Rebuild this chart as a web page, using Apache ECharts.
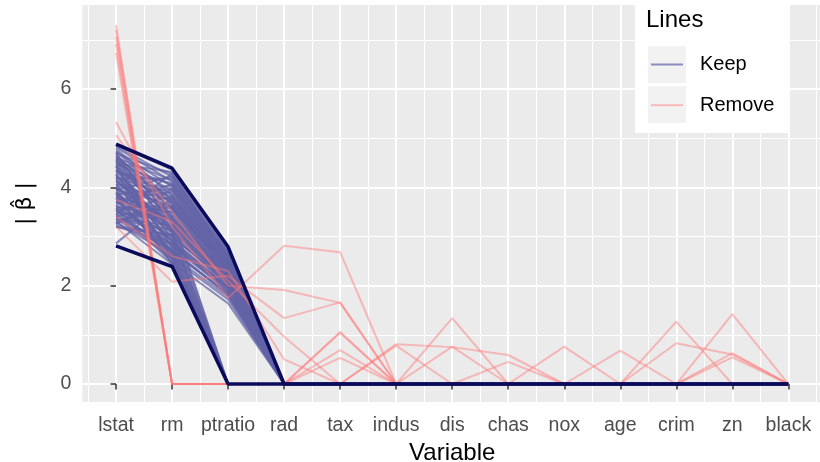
<!DOCTYPE html>
<html>
<head>
<meta charset="utf-8">
<script src="https://cdn.jsdelivr.net/npm/echarts@6/dist/echarts.min.js"></script>
<style>
html, body { margin: 0; padding: 0; background: #fff; }
#chart { width: 820px; height: 462px; }
</style>
</head>
<body>
<div id="chart"></div>
<script>
const variables = ['lstat', 'rm', 'ptratio', 'rad', 'tax', 'indus', 'dis', 'chas', 'nox', 'age', 'crim', 'zn', 'black'];

// "Keep" lines: only lstat, rm and ptratio are non-zero
const keepLstat = [4.86, 4.81, 4.74, 4.69, 4.63, 4.58, 4.55, 4.49, 4.44, 4.37, 4.33, 4.27, 4.22, 4.18, 4.12, 4.07,
    4.03, 3.98, 3.94, 3.88, 3.83, 3.79, 3.74, 3.69, 3.63, 3.58, 3.54, 3.49, 3.44, 3.38, 3.33, 3.29,
    3.24, 3.19, 2.86, 4.64, 4.01, 3.71, 4.41, 3.36, 4.84, 4.78, 4.72, 4.67, 4.61, 4.56, 4.51, 4.47,
    4.42, 4.35, 4.31, 4.25, 4.21, 4.16, 4.10, 4.05, 3.99, 3.96, 3.90, 3.86, 3.81, 3.76, 3.72, 3.66,
    3.61, 3.56, 3.52, 3.46, 3.41, 3.35, 3.27, 3.21,
    4.46, 3.92, 3.51, 4.14, 3.31, 4.59, 3.77, 3.22, 4.28, 3.64, 4.70, 3.42, 4.00, 3.86,
    4.20, 3.58, 4.52, 3.35, 3.98, 4.33];
const keepRm = [4.36, 4.12, 3.71, 4.27, 3.38, 3.93, 3.15, 4.31, 3.58, 2.98, 3.86, 2.81, 3.47, 4.18, 3.26, 2.67,
    3.74, 3.07, 4.22, 2.91, 3.43, 2.56, 3.91, 3.18, 2.74, 3.62, 2.47, 3.34, 4.28, 2.86, 3.52, 2.61,
    3.97, 3.02, 3.79, 3.66, 3.11, 3.49, 2.94, 3.23, 4.21, 3.84, 4.02, 3.55, 4.14, 3.29, 3.77, 4.05,
    3.36, 3.68, 4.09, 3.12, 3.81, 2.88, 3.57, 4.01, 3.31, 3.63, 2.79, 3.97, 3.24, 3.56, 2.69, 4.07,
    3.39, 3.02, 3.82, 2.72, 3.60, 3.13, 3.71, 2.84,
    2.52, 2.71, 2.93, 3.19, 2.44, 3.41, 2.63, 3.04, 2.61, 2.83, 3.06, 2.55, 3.33, 2.48,
    2.90, 2.58, 2.77, 2.70, 2.45, 3.10];
const keepPtratio = [2.74, 2.60, 2.44, 2.66, 2.27, 2.52, 2.18, 2.70, 2.36, 2.08, 2.47, 1.96, 2.29, 2.62, 2.16, 1.86,
    2.41, 2.04, 2.58, 1.99, 2.24, 1.72, 2.45, 2.13, 1.82, 2.33, 1.64, 2.19, 2.55, 1.92, 2.26, 1.77,
    2.39, 2.01, 2.34, 2.31, 2.09, 2.21, 1.95, 2.11, 2.68, 2.49, 2.57, 2.35, 2.61, 2.22, 2.43, 2.59,
    2.25, 2.39, 2.56, 2.10, 2.44, 1.97, 2.32, 2.53, 2.17, 2.36, 1.90, 2.50, 2.14, 2.30, 1.84, 2.48,
    2.20, 2.03, 2.40, 1.80, 2.31, 2.07, 2.35, 1.88,
    0, 0, 0, 0, 0, 0, 0, 0, 0, 0, 0, 0, 0, 0,
    0, 0, 0, 0, 0, 0];
const keepRest = [0, 0, 0, 0, 0, 0, 0, 0, 0, 0];

// "Remove" lines, one row per line, in the order of variables
const removeLines = [
    [5.33, 3.20, 1.75, 2.81, 2.68, 0, 1.34, 0, 0, 0.68, 0, 0, 0],
    [5.06, 3.50, 2.00, 1.91, 1.65, 0, 0, 0.45, 0, 0, 1.27, 0, 0],
    [3.20, 2.08, 2.20, 1.34, 1.66, 0, 0.76, 0, 0.76, 0, 0, 1.42, 0],
    [3.75, 3.30, 2.10, 0.96, 0, 0.81, 0.75, 0.59, 0, 0, 0.83, 0.60, 0],
    [3.40, 2.60, 2.30, 0.50, 0, 0.78, 0, 0, 0, 0, 0, 0.63, 0],
    [7.30, 0, 0, 0, 1.06, 0, 0, 0, 0, 0, 0, 0.54, 0],
    [7.20, 0, 0, 0, 1.04, 0, 0, 0, 0, 0, 0, 0, 0],
    [7.06, 0, 0, 0, 0.69, 0, 0, 0, 0, 0, 0, 0, 0],
    [6.92, 0, 0, 0, 0.53, 0, 0, 0, 0, 0, 0, 0, 0],
    [6.74, 0, 0, 0, 0, 0, 0, 0, 0, 0, 0, 0, 0]
];

// the two dark outline lines
const boundLines = [
    [4.88, 4.39, 2.79, 0, 0, 0, 0, 0, 0, 0, 0, 0, 0],
    [2.81, 2.39, 0, 0, 0, 0, 0, 0, 0, 0, 0, 0, 0]
];

const xTicks = [0, 1, 2, 3, 4, 5, 6, 7, 8, 9, 10, 11, 12];
const xMinorTicks = [-0.5, 0.5, 1.5, 2.5, 3.5, 4.5, 5.5, 6.5, 7.5, 8.5, 9.5, 10.5, 11.5, 12.5];
const yTicks = [0, 2, 4, 6];
const yMinorTicks = [1, 3, 5, 7];

const FONT = "'Liberation Sans', Arial, sans-serif";
const keepColor = 'rgba(98, 98, 166, 0.72)';
const removeColor = 'rgba(255, 118, 118, 0.45)';
const boundColor = '#0b0b5c';

const lineOptions = {
    type: 'line',
    symbol: 'none',
    silent: true,
    emphasis: { disabled: true }
};

function toPoints(values) {
    return values.map((v, i) => [i, v]);
}

let series = [];
for (let i = 0; i < keepLstat.length; i++) {
    series.push({
        name: 'Keep',
        data: toPoints([keepLstat[i], keepRm[i], keepPtratio[i]].concat(keepRest)),
        color: keepColor,
        lineStyle: { width: 2 },
        z: 2,
        ...lineOptions
    });
}
for (let i = 0; i < removeLines.length; i++) {
    series.push({
        name: 'Remove',
        data: toPoints(removeLines[i]),
        color: removeColor,
        lineStyle: { width: 2 },
        z: 3,
        ...lineOptions
    });
}
for (let i = 0; i < boundLines.length; i++) {
    series.push({
        name: 'bound',
        data: toPoints(boundLines[i]),
        color: boundColor,
        lineStyle: { width: 3.5 },
        z: 4,
        ...lineOptions
    });
}

const xMin = -0.6, xMax = 12.6;
const yMin = -0.366, yMax = 7.708;

let chartDom = document.getElementById('chart');
let myChart = echarts.init(chartDom, null, { renderer: 'canvas' });

let option = {
    animation: false,
    backgroundColor: '#ffffff',
    textStyle: { fontFamily: FONT },
    grid: {
        left: 82.4, top: 5, width: 739.6, height: 397,
        outerBoundsMode: 'none', containLabel: false,
        show: true, backgroundColor: '#ebebeb', borderWidth: 0
    },
    title: {
        text: 'Lines',
        left: 646, top: 8, padding: 0,
        textStyle: { fontFamily: FONT, fontSize: 24, fontWeight: 'normal', color: '#000' }
    },
    legend: {
        data: ['Keep', 'Remove'],
        orient: 'vertical',
        left: 651, top: 54.5, padding: 0,
        icon: 'rect',
        itemWidth: 32, itemHeight: 2, itemGap: 20.7,
        selectedMode: false,
        textStyle: { fontFamily: FONT, fontSize: 20, color: '#000', lineHeight: 20, padding: [0, 0, 0, 12] }
    },
    graphic: [
        { type: 'rect', z: 3, shape: { x: 635, y: 0, width: 155, height: 133 }, style: { fill: '#ffffff' } },
        { type: 'rect', z: 3, shape: { x: 648, y: 46, width: 38, height: 37 }, style: { fill: '#f2f2f2' } },
        { type: 'rect', z: 3, shape: { x: 648, y: 86, width: 38, height: 37 }, style: { fill: '#f2f2f2' } }
    ],
    xAxis: [
        {
            type: 'value', min: xMin, max: xMax,
            name: 'Variable', nameLocation: 'middle', nameGap: 36,
            nameTextStyle: { fontFamily: FONT, fontSize: 24, color: '#000' },
            axisLine: { show: false },
            axisTick: { show: true, customValues: xTicks, length: 5.5, lineStyle: { color: '#333', width: 1.5 } },
            axisLabel: {
                customValues: xTicks, margin: 14, fontFamily: FONT, fontSize: 19.5, color: '#4d4d4d',
                formatter: v => variables[Math.round(v)]
            },
            splitLine: { show: true, lineStyle: { color: '#ffffff', width: 2 } }
        },
        {
            type: 'value', min: xMin, max: xMax, position: 'bottom',
            axisLine: { show: false },
            axisTick: { show: false, customValues: xMinorTicks },
            axisLabel: { show: false },
            splitLine: { show: true, lineStyle: { color: '#ffffff', width: 1 } }
        }
    ],
    yAxis: [
        {
            type: 'value', min: yMin, max: yMax,
            name: '| β\u0302 |', nameLocation: 'middle', nameGap: 46, nameRotate: 90,
            nameTextStyle: { fontFamily: "'DejaVu Sans', sans-serif", fontSize: 22, color: '#000' },
            axisLine: { show: false },
            axisTick: { show: true, customValues: yTicks, length: 5.5, lineStyle: { color: '#333', width: 1.5 } },
            axisLabel: { customValues: yTicks, margin: 11, fontFamily: FONT, fontSize: 19.5, color: '#4d4d4d' },
            splitLine: { show: true, lineStyle: { color: '#ffffff', width: 2 } }
        },
        {
            type: 'value', min: yMin, max: yMax, position: 'left',
            axisLine: { show: false },
            axisTick: { show: false, customValues: yMinorTicks },
            axisLabel: { show: false },
            splitLine: { show: true, lineStyle: { color: '#ffffff', width: 1 } }
        }
    ],
    series
};

option && myChart.setOption(option);
</script>
</body>
</html>
